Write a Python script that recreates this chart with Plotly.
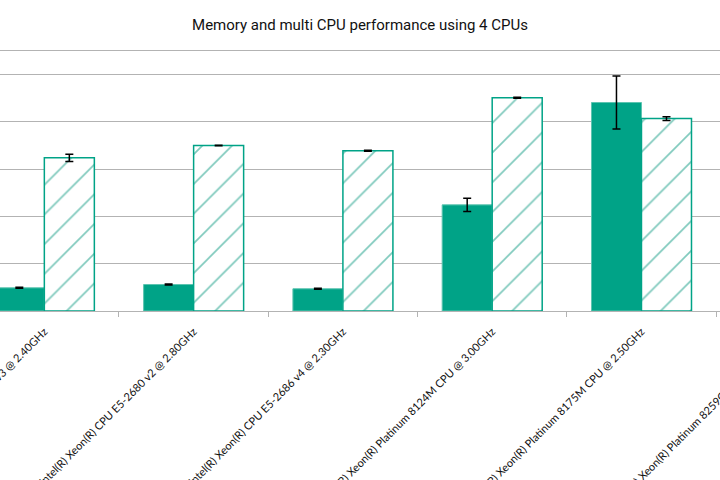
import plotly.graph_objects as go

categories = [
    "Intel(R) Xeon(R) CPU E5-2676 v3 @ 2.40GHz",
    "Intel(R) Xeon(R) CPU E5-2680 v2 @ 2.80GHz",
    "Intel(R) Xeon(R) CPU E5-2686 v4 @ 2.30GHz",
    "Intel(R) Xeon(R) Platinum 8124M CPU @ 3.00GHz",
    "Intel(R) Xeon(R) Platinum 8175M CPU @ 2.50GHz",
]
offscreen_label = "Intel(R) Xeon(R) Platinum 8259CL CPU @ 2.50GHz"

memory_values = [0.49, 0.56, 0.47, 2.245, 4.41]
memory_errors = [0.01, 0.01, 0.01, 0.14, 0.56]
multi_cpu_values = [3.24, 3.50, 3.39, 4.51, 4.07]
multi_cpu_errors = [0.075, 0.006, 0.01, 0.01, 0.04]

TEAL = "#00a387"
LABEL_FONT = dict(family="Lato, Open Sans, sans-serif", size=11, color="#111111")

fig = go.Figure()
fig.add_trace(go.Bar(
    name="Memory", x=categories, y=memory_values,
    marker=dict(color=TEAL, line=dict(color="#5cc4b0", width=1)),
    error_y=dict(type="data", array=memory_errors, color="black", thickness=1.5, width=4),
))
fig.add_trace(go.Bar(
    name="Multi CPU", x=categories, y=multi_cpu_values,
    marker=dict(color="white", line=dict(color=TEAL, width=1.5),
                pattern=dict(shape="/", fgcolor="#00937a", bgcolor="white", size=21, solidity=0.08)),
    error_y=dict(type="data", array=multi_cpu_errors, color="black", thickness=1.5, width=4),
))

lo, hi = -0.297, 4.526
fig.update_layout(
    width=720, height=480,
    margin=dict(l=0, r=0, t=51, b=169, autoexpand=False),
    paper_bgcolor="white", plot_bgcolor="white",
    barmode="group", bargap=0.33, bargroupgap=0.0,
    showlegend=False,
    title=dict(text="Memory and multi CPU performance using 4 CPUs", x=0.5, xanchor="center",
               y=0.948, yanchor="middle",
               font=dict(family="Liberation Sans Narrow, Roboto, sans-serif", size=15, color="#111")),
    xaxis=dict(range=[lo, hi], tickson="boundaries", ticks="outside", ticklen=5, tickcolor="#b3b3b3",
               showline=True, linecolor="#b3b3b3", linewidth=1, mirror=True, showgrid=False,
               tickangle=-45, automargin=False, ticklabelstandoff=9,
               tickfont=LABEL_FONT),
    yaxis=dict(range=[0, 5.5], dtick=1, showgrid=True, gridcolor="#b3b3b3", gridwidth=1,
               showticklabels=False, zeroline=False, showline=False, automargin=False),
)

fig.add_annotation(
    text=offscreen_label, xref="paper", yref="paper",
    x=(5 - lo) / (hi - lo) + 0.004, y=-0.05, xanchor="right", yanchor="top",
    textangle=-45, showarrow=False, font=LABEL_FONT,
)

fig.write_html("out.html", config={"displayModeBar": False},
               post_script="document.body.style.margin='0';document.body.style.overflow='hidden';")
